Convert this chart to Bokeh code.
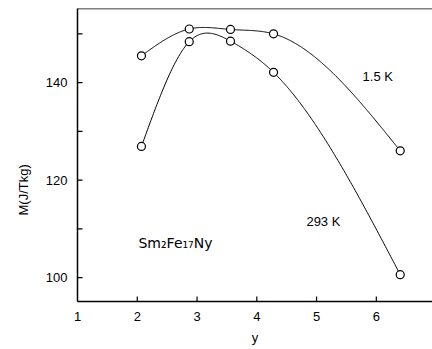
import numpy as np
from bokeh.plotting import figure
from bokeh.models import Range1d, FixedTicker, Label, Span, Title
from bokeh.embed import file_html
from bokeh.resources import INLINE

# ---- data ----
y_content = [2.07, 2.87, 3.56, 4.28, 6.40]          # nitrogen content y
m_1p5K = [145.5, 151.0, 150.9, 150.0, 126.0]        # M at 1.5 K (J/Tkg)
m_293K = [126.9, 148.4, 148.5, 142.1, 100.6]        # M at 293 K (J/Tkg)
x_ticks = [1, 2, 3, 4, 5, 6]
y_major_ticks = [100, 120, 140]
y_minor_ticks = [110, 130, 150]

FONT = "Liberation Sans"
X0, X1 = 1.0, 6.94
Y0, Y1 = 95.1, 155.2
W, H = 432, 349
BL, BR, BT, BB = 77, 0, 8, 48
TICK_PX = 5


def natural_spline(x, y, n=300):
    x = np.asarray(x, float)
    y = np.asarray(y, float)
    k = len(x)
    h = np.diff(x)
    A = np.zeros((k, k))
    b = np.zeros(k)
    A[0, 0] = 1.0
    A[-1, -1] = 1.0
    for i in range(1, k - 1):
        A[i, i - 1] = h[i - 1]
        A[i, i] = 2 * (h[i - 1] + h[i])
        A[i, i + 1] = h[i]
        b[i] = 6 * ((y[i + 1] - y[i]) / h[i] - (y[i] - y[i - 1]) / h[i - 1])
    M = np.linalg.solve(A, b)
    xs = np.linspace(x[0], x[-1], n)
    ys = np.empty_like(xs)
    for j, xv in enumerate(xs):
        i = min(max(np.searchsorted(x, xv) - 1, 0), k - 2)
        t1 = x[i + 1] - xv
        t0 = xv - x[i]
        hi = h[i]
        ys[j] = (M[i] * t1 ** 3 / (6 * hi) + M[i + 1] * t0 ** 3 / (6 * hi)
                 + (y[i] / hi - M[i] * hi / 6) * t1
                 + (y[i + 1] / hi - M[i + 1] * hi / 6) * t0)
    return xs, ys


p = figure(width=W, height=H, output_backend="svg", toolbar_location=None,
           x_range=Range1d(X0, X1), y_range=Range1d(Y0, Y1),
           min_border_left=BL, min_border_right=BR, min_border_top=BT,
           min_border_bottom=BB)
p.outline_line_color = None
p.xgrid.visible = False
p.ygrid.visible = False
p.background_fill_color = "white"
p.border_fill_color = "white"

for xa in p.xaxis:
    xa.ticker = FixedTicker(ticks=x_ticks)
    xa.major_tick_in = 0
    xa.major_tick_out = 0
    xa.minor_tick_line_color = None
    xa.axis_line_width = 1.5
    xa.axis_line_color = "black"
    xa.major_label_text_font = FONT
    xa.major_label_text_font_size = "13px"
    xa.major_label_text_color = "black"
    xa.major_label_standoff = 10
    xa.axis_label = "y"
    xa.axis_label_text_font = FONT
    xa.axis_label_text_font_size = "13px"
    xa.axis_label_text_font_style = "normal"
    xa.axis_label_text_color = "black"
    xa.axis_label_standoff = 6

for ya in p.yaxis:
    ya.ticker = FixedTicker(ticks=y_major_ticks, minor_ticks=y_minor_ticks)
    ya.major_tick_in = 0
    ya.major_tick_out = 0
    ya.minor_tick_in = 0
    ya.minor_tick_out = 0
    ya.axis_line_width = 1.5
    ya.axis_line_color = "black"
    ya.major_label_text_font = FONT
    ya.major_label_text_font_size = "13px"
    ya.major_label_text_color = "black"
    ya.major_label_standoff = 10

# inward tick marks as short segments (length of TICK_PX pixels)
dx = TICK_PX * (X1 - X0) / (W - BL - BR)
dy = TICK_PX * (Y1 - Y0) / (H - BT - BB)
xt = x_ticks[1:]
p.segment(x0=xt, y0=[Y0] * len(xt), x1=xt, y1=[Y0 + dy] * len(xt),
          line_color="black", line_width=1.2)
y_all_ticks = y_major_ticks + y_minor_ticks
p.segment(x0=[X0] * len(y_all_ticks), y0=y_all_ticks,
          x1=[X0 + dx] * len(y_all_ticks), y1=y_all_ticks,
          line_color="black", line_width=1.2)

p.add_layout(Span(location=Y1, dimension="width", line_color="black",
                  line_width=1.5))

for vals in (m_1p5K, m_293K):
    xs, ys = natural_spline(y_content, vals)
    p.line(xs, ys, line_color="black", line_width=1)
    p.scatter(y_content, vals, marker="circle", size=8, fill_color="white",
              line_color="black", line_width=1.2)

# y-axis title on the left side, shifted towards the bottom as in the reference
p.add_layout(Title(text="M(J/Tkg)", align="left", offset=86,
                   text_font=FONT, text_font_size="13px",
                   text_font_style="normal", text_color="black",
                   standoff=24), "left")

p.add_layout(Label(x=5.77, y=141.2, text="1.5 K", text_align="left",
                   text_baseline="middle", text_font=FONT,
                   text_font_size="13px", text_color="black"))
p.add_layout(Label(x=4.83, y=111.5, text="293 K", text_align="left",
                   text_baseline="middle", text_font=FONT,
                   text_font_size="13px", text_color="black"))
p.add_layout(Label(x=2.02, y=107.0, text="Sm\u2082Fe\u2081\u2087Ny",
                   text_align="left", text_baseline="middle",
                   text_font="DejaVu Sans", text_font_size="14px",
                   text_color="black"))

open("out.html", "w").write(file_html(p, INLINE))
